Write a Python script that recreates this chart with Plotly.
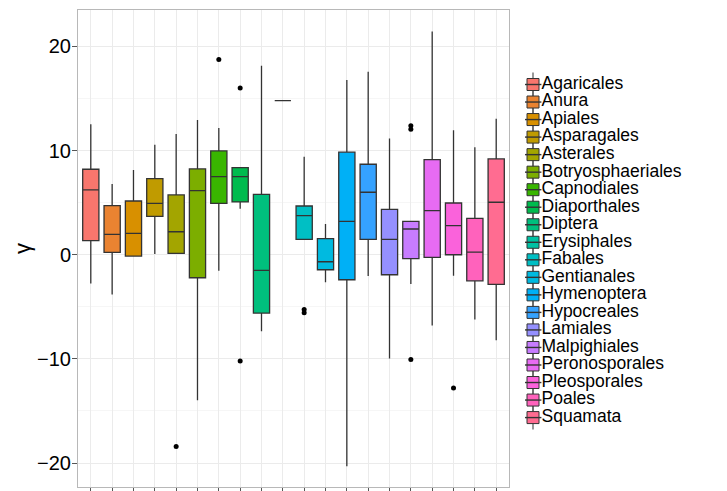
import plotly.graph_objects as go

categories = ["Agaricales", "Anura", "Apiales", "Asparagales", "Asterales",
              "Botryosphaeriales", "Capnodiales", "Diaporthales", "Diptera",
              "Erysiphales", "Fabales", "Gentianales", "Hymenoptera",
              "Hypocreales", "Lamiales", "Malpighiales", "Peronosporales",
              "Pleosporales", "Poales", "Squamata"]

q1_vals = [1.35, 0.23, -0.13, 3.69, 0.13, -2.21, 4.94, 5.07, -5.6, 14.8,
           1.48, -1.44, -2.4, 1.48, -1.92, -0.38, -0.25, 0.0, -2.5, -2.85]
median_vals = [6.22, 1.96, 2.06, 4.94, 2.21, 6.15, 7.5, 7.5, -1.5, 14.8,
               3.75, -0.67, 3.21, 6.0, 1.48, 2.47, 4.23, 2.79, 0.26, 5.04]
q3_vals = [8.21, 4.71, 5.16, 7.31, 5.74, 8.24, 9.97, 8.37, 5.8, 14.8,
           4.68, 1.54, 9.85, 8.69, 4.36, 3.21, 9.13, 4.97, 3.5, 9.2]
lower_whisker = [-2.75, -3.81, -0.13, 0.07, 0.1, -13.97, -1.54, 4.42, -7.34, 14.8,
                 1.48, -2.63, -20.3, -2.05, -9.96, -2.82, -6.79, -2.02, -6.21, -8.2]
upper_whisker = [12.54, 6.8, 8.14, 10.55, 11.6, 12.95, 12.18, 8.37, 18.14, 14.8,
                 9.42, 2.95, 16.77, 17.57, 11.15, 3.21, 21.44, 11.96, 10.33, 13.05]

outlier_cats = ["Asterales", "Capnodiales", "Diaporthales", "Diaporthales",
                "Fabales", "Fabales", "Malpighiales", "Malpighiales",
                "Malpighiales", "Pleosporales"]
outlier_vals = [-18.4, 18.75, 16.0, -10.19, -5.25, -5.58, 12.38, 12.06, -10.06, -12.79]

y_tick_vals = [-20, -10, 0, 10, 20]
y_tick_text = ["\u221220", "\u221210", "0", "10", "20"]

colors = ["#F8766D", "#EA8331", "#D89000", "#C09B00", "#A3A500", "#7CAE00",
          "#39B600", "#00BB4E", "#00BF7D", "#00C1A3", "#00BFC4", "#00BAE0",
          "#00B0F6", "#35A2FF", "#9590FF", "#C77CFF", "#E76BF3", "#FA62DB",
          "#FF62BC", "#FF6C91"]

FONT = "Liberation Sans, Arial, Helvetica, sans-serif"

fig = go.Figure()

for i, c in enumerate(categories):
    fig.add_trace(go.Box(
        x=[c], q1=[q1_vals[i]], median=[median_vals[i]], q3=[q3_vals[i]],
        lowerfence=[lower_whisker[i]], upperfence=[upper_whisker[i]],
        boxpoints=False, width=0.76, whiskerwidth=0,
        fillcolor=colors[i], line=dict(color="#333333", width=1.3),
        name=c, showlegend=False, xaxis="x", yaxis="y",
    ))

fig.add_trace(go.Scatter(
    x=outlier_cats, y=outlier_vals, mode="markers",
    marker=dict(color="black", size=5), showlegend=False,
    xaxis="x", yaxis="y",
))

# legend drawn on a helper axis pair
zeros = [0] * len(categories)
fig.add_trace(go.Scatter(
    x=zeros, y=categories, mode="markers",
    marker=dict(symbol="line-ns", size=17, line=dict(color="#555555", width=1.2)),
    showlegend=False, xaxis="x2", yaxis="y2", hoverinfo="skip",
))
fig.add_trace(go.Scatter(
    x=zeros, y=categories, mode="markers+text", text=categories,
    textposition="middle right",
    textfont=dict(family=FONT, size=17.5, color="black"),
    marker=dict(symbol="square", size=12, color=colors,
                line=dict(color="#333333", width=1)),
    showlegend=False, xaxis="x2", yaxis="y2", hoverinfo="skip",
))
fig.add_trace(go.Scatter(
    x=zeros, y=categories, mode="markers",
    marker=dict(symbol="line-ew", size=12, line=dict(color="#333333", width=1.4)),
    showlegend=False, xaxis="x2", yaxis="y2", hoverinfo="skip",
))

main_frac = (509 - 78) / 644.0

fig.update_layout(
    width=727, height=491,
    margin=dict(l=78, r=5, t=10, b=4, autoexpand=False),
    paper_bgcolor="white", plot_bgcolor="white",
    font=dict(family=FONT, color="black"),
    xaxis=dict(
        domain=[0, main_frac], type="category",
        categoryorder="array", categoryarray=categories,
        range=[-0.6, 19.6], showticklabels=False,
        ticks="outside", ticklen=4, tickcolor="#555555",
        showgrid=True, gridcolor="#ebebeb", gridwidth=1,
        showline=True, mirror=True, linecolor="#b8b8b8", linewidth=1,
        zeroline=False, anchor="y", automargin=False,
    ),
    yaxis=dict(
        range=[-22.3, 23.5], tickvals=y_tick_vals, ticktext=y_tick_text,
        tickfont=dict(family=FONT, size=20, color="black"),
        ticks="outside", ticklen=5, tickcolor="#555555",
        ticklabelstandoff=-3,
        showgrid=True, gridcolor="#ebebeb", gridwidth=1,
        minor=dict(tickvals=[-15, -5, 5, 15], showgrid=True,
                   gridcolor="#f6f6f6", ticks=""),
        showline=True, mirror=True, linecolor="#b8b8b8", linewidth=1,
        zeroline=False, anchor="x", automargin=False,
        title=dict(text="\u03b3", font=dict(family=FONT, size=22, color="black"),
                   standoff=0),
    ),
    xaxis2=dict(
        domain=[(525 - 78) / 644.0, 1], range=[-8, 189], visible=False,
        anchor="y2", showgrid=False, zeroline=False, automargin=False,
    ),
    yaxis2=dict(
        domain=[0, 1], type="category", categoryorder="array",
        categoryarray=categories, range=[22.96, -4.25], visible=False,
        anchor="x2", showgrid=False, zeroline=False, automargin=False,
    ),
)

fig.write_html("out.html", config={"displayModeBar": False},
               post_script="document.body.style.margin='0';document.body.style.padding='0';")
